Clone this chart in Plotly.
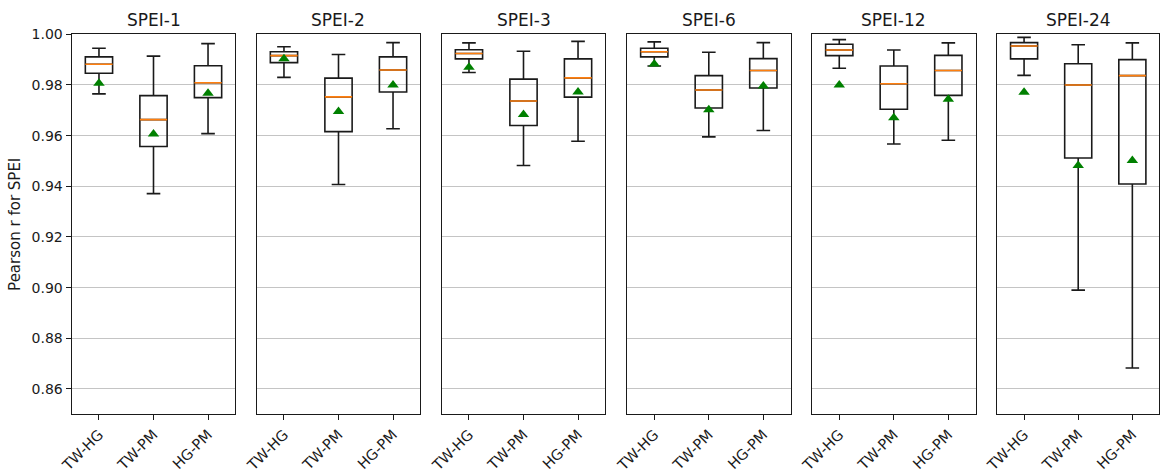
import plotly.graph_objects as go

panels = ["SPEI-1", "SPEI-2", "SPEI-3", "SPEI-6", "SPEI-12", "SPEI-24"]
pairs = ["TW-HG", "TW-PM", "HG-PM"]

# per panel: values for [TW-HG, TW-PM, HG-PM]
upper = [[0.9945, 0.9914, 0.9963], [0.9951, 0.9920, 0.9967], [0.9966, 0.9933, 0.9972],
         [0.9970, 0.9929, 0.9967], [0.9979, 0.9938, 0.9966], [0.9988, 0.9959, 0.9966]]
q3 = [[0.9911, 0.9758, 0.9876], [0.9931, 0.9827, 0.9911], [0.9939, 0.9823, 0.9903],
      [0.9945, 0.9837, 0.9904], [0.9961, 0.9875, 0.9917], [0.9967, 0.9884, 0.9900]]
median = [[0.9882, 0.9663, 0.9809], [0.9916, 0.9753, 0.9859], [0.9924, 0.9737, 0.9828],
          [0.9931, 0.9780, 0.9857], [0.9938, 0.9805, 0.9857], [0.9954, 0.9800, 0.9837]]
q1 = [[0.9846, 0.9557, 0.9750], [0.9888, 0.9616, 0.9772], [0.9903, 0.9640, 0.9752],
      [0.9911, 0.9709, 0.9788], [0.9916, 0.9704, 0.9759], [0.9903, 0.9512, 0.9409]]
lower = [[0.9765, 0.9371, 0.9608], [0.9830, 0.9407, 0.9627], [0.9849, 0.9482, 0.9578],
         [0.9875, 0.9595, 0.9620], [0.9866, 0.9567, 0.9582], [0.9838, 0.8990, 0.8683]]
mean = [[0.9807, 0.9606, 0.9767], [0.9903, 0.9695, 0.9800], [0.9870, 0.9683, 0.9772],
        [0.9883, 0.9702, 0.9796], [0.9800, 0.9671, 0.9744], [0.9771, 0.9482, 0.9502]]

ytick_vals = [0.86, 0.88, 0.90, 0.92, 0.94, 0.96, 0.98, 1.00]

W, H = 1160, 474
lefts = [71.7, 256.7, 441.7, 627.0, 812.0, 997.0]
pw = 163.6
ytop, ybot = 34.3, 414.3

fig = go.Figure()
font = "DejaVu Sans"

for i, name in enumerate(panels):
    xa = "x" if i == 0 else f"x{i+1}"
    ya = "y" if i == 0 else f"y{i+1}"
    fig.add_trace(go.Box(
        x=pairs, q1=q1[i], median=median[i], q3=q3[i],
        lowerfence=lower[i], upperfence=upper[i],
        width=0.5, whiskerwidth=0.5,
        line=dict(color="#1a1a1a", width=1.6),
        fillcolor="rgba(0,0,0,0)", boxpoints=False,
        xaxis=xa, yaxis=ya, showlegend=False, hoverinfo="skip"))
    fig.add_trace(go.Box(
        x=pairs, q1=median[i], median=median[i], q3=median[i],
        lowerfence=median[i], upperfence=median[i],
        width=0.5, whiskerwidth=0,
        line=dict(color="#ff7f0e", width=1.6),
        fillcolor="rgba(0,0,0,0)", boxpoints=False,
        xaxis=xa, yaxis=ya, showlegend=False, hoverinfo="skip"))
    fig.add_trace(go.Scatter(
        x=pairs, y=mean[i], mode="markers",
        marker=dict(symbol="triangle-up", color="#008000", size=10),
        xaxis=xa, yaxis=ya, showlegend=False, hoverinfo="skip"))

    d0 = lefts[i] / W
    d1 = min((lefts[i] + pw) / W, 0.9995)
    axkey = "xaxis" if i == 0 else f"xaxis{i+1}"
    aykey = "yaxis" if i == 0 else f"yaxis{i+1}"
    fig.update_layout(**{
        axkey: dict(domain=[d0, d1], anchor=ya, range=[-0.5, 2.5], automargin=False,
                    categoryorder="array", categoryarray=pairs,
                    showline=True, mirror=True, linecolor="#1a1a1a", linewidth=1.3,
                    ticks="outside", ticklen=5, tickcolor="#1a1a1a",
                    tickangle=-45, showgrid=False, zeroline=False,
                    tickfont=dict(family=font, size=14.5, color="#1a1a1a")),
        aykey: dict(domain=[1 - ybot / H, 1 - ytop / H], anchor=xa, automargin=False,
                    range=[0.85, 1.0], tickvals=ytick_vals, tickformat=".2f",
                    showticklabels=(i == 0), ticks="outside" if i == 0 else "",
                    ticklen=5, tickcolor="#1a1a1a",
                    showgrid=True, gridcolor="#c4c4c4", gridwidth=1.2,
                    showline=True, mirror=True, linecolor="#1a1a1a", linewidth=1.3,
                    zeroline=False,
                    tickfont=dict(family=font, size=14, color="#1a1a1a"),
                    **({"matches": "y"} if i > 0 else {})),
    })
    fig.add_annotation(text=name, x=(d0 + d1) / 2, y=1 - ytop / H,
                       xref="paper", yref="paper", xanchor="center", yanchor="bottom",
                       yshift=2, showarrow=False,
                       font=dict(family=font, size=17, color="#1a1a1a"))

fig.update_layout(
    width=W, height=H, margin=dict(l=0, r=0, t=0, b=0),
    paper_bgcolor="white", plot_bgcolor="white", boxmode="overlay",
    font=dict(family=font, color="#1a1a1a"),
)
fig.update_layout(yaxis_title=dict(text="Pearson r for SPEI", standoff=7,
                                   font=dict(family=font, size=15, color="#1a1a1a")))

fig.write_html("out.html", config={"displayModeBar": False},
               post_script="document.body.style.margin='0';document.body.style.overflow='hidden';")
